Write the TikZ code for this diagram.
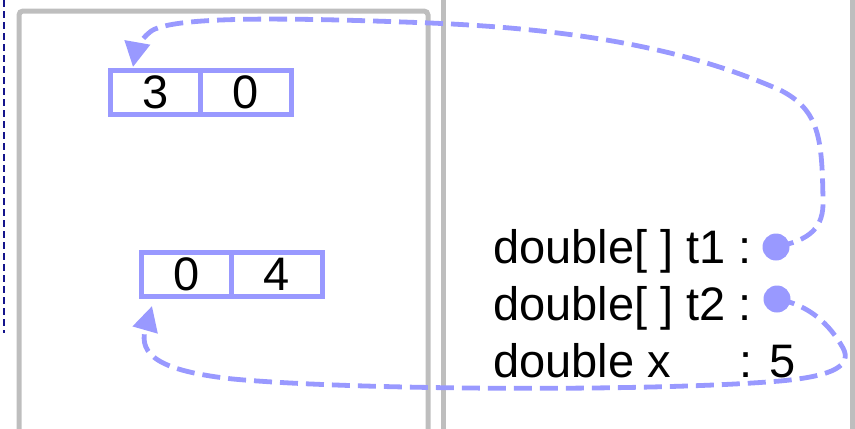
\documentclass[tikz,border=0pt]{standalone}
\usepackage{fontspec}
\setmainfont{Liberation Sans}
\usetikzlibrary{arrows.meta}
\definecolor{ptrblue}{RGB}{153,153,255}
\definecolor{framegray}{RGB}{190,190,190}
\definecolor{navyline}{RGB}{20,20,140}
\begin{document}
\begin{tikzpicture}[x=0.5pt,y=-0.5pt,
  bigfont/.style={font=\fontsize{23.5}{28}\selectfont},
  cell/.style={draw=ptrblue, line width=2.5pt, minimum width=45.25pt, minimum height=22pt, inner sep=0pt, bigfont},
  lbl/.style={inner sep=0pt, bigfont, anchor=base west},
  dot/.style={circle, fill=ptrblue, minimum size=13.5pt, inner sep=0pt},
  frame/.style={draw=framegray, line width=2.5pt},
  ptr/.style={draw=ptrblue, line width=2.4pt, dash pattern=on 9pt off 4pt, -{Triangle[length=12.5pt,width=12.5pt]}},
  guide/.style={draw=navyline, line width=1.3pt, dash pattern=on 3.5pt off 2pt}]
\useasboundingbox (0,0) rectangle (855,428);
% frames
\draw[guide] (4,0) -- (4,333);
\draw[frame, rounded corners=2pt] (19,440) -- (19,11) -- (428,11) -- (428,440);
\draw[frame] (443,-5) -- (443,440);
\draw[frame] (852,-5) -- (852,440);
% arrays
\node[cell] (c1) at (155.25,92) {3};
\node[cell] (c2) at (245.75,92) {0};
\node[cell] (c3) at (186.25,274) {0};
\node[cell] (c4) at (276.75,274) {4};
% variables
\node[lbl] (t1) at (493,263) {double[ ] t1 :};
\node[lbl] (t2) at (493,320) {double[ ] t2 :};
\node[lbl] (x) at (493,377) {double x};
\node[lbl] (xv) at (739,377) {: 5};
\coordinate (a1) at (133,67);
\coordinate (a2) at (152,306);
% pointers
\draw[ptr] (776,247) .. controls (810,240) and (824,228) .. (823,200)
  .. controls (822,140) and (820,110) .. (780,90)
  .. controls (700,55) and (600,30) .. (430,23)
  .. controls (300,18) and (170,15) .. (150,32)
  .. controls (140,40) and (136,50) .. (a1);
\draw[ptr] (777,299) .. controls (810,305) and (830,325) .. (843,348)
  .. controls (852,365) and (835,376) .. (780,381)
  .. controls (650,392) and (350,390) .. (233,379)
  .. controls (160,371) and (138,355) .. (a2);
\node[dot] (d1) at (776,247) {};
\node[dot] (d2) at (777,299) {};
\end{tikzpicture}
\end{document}
